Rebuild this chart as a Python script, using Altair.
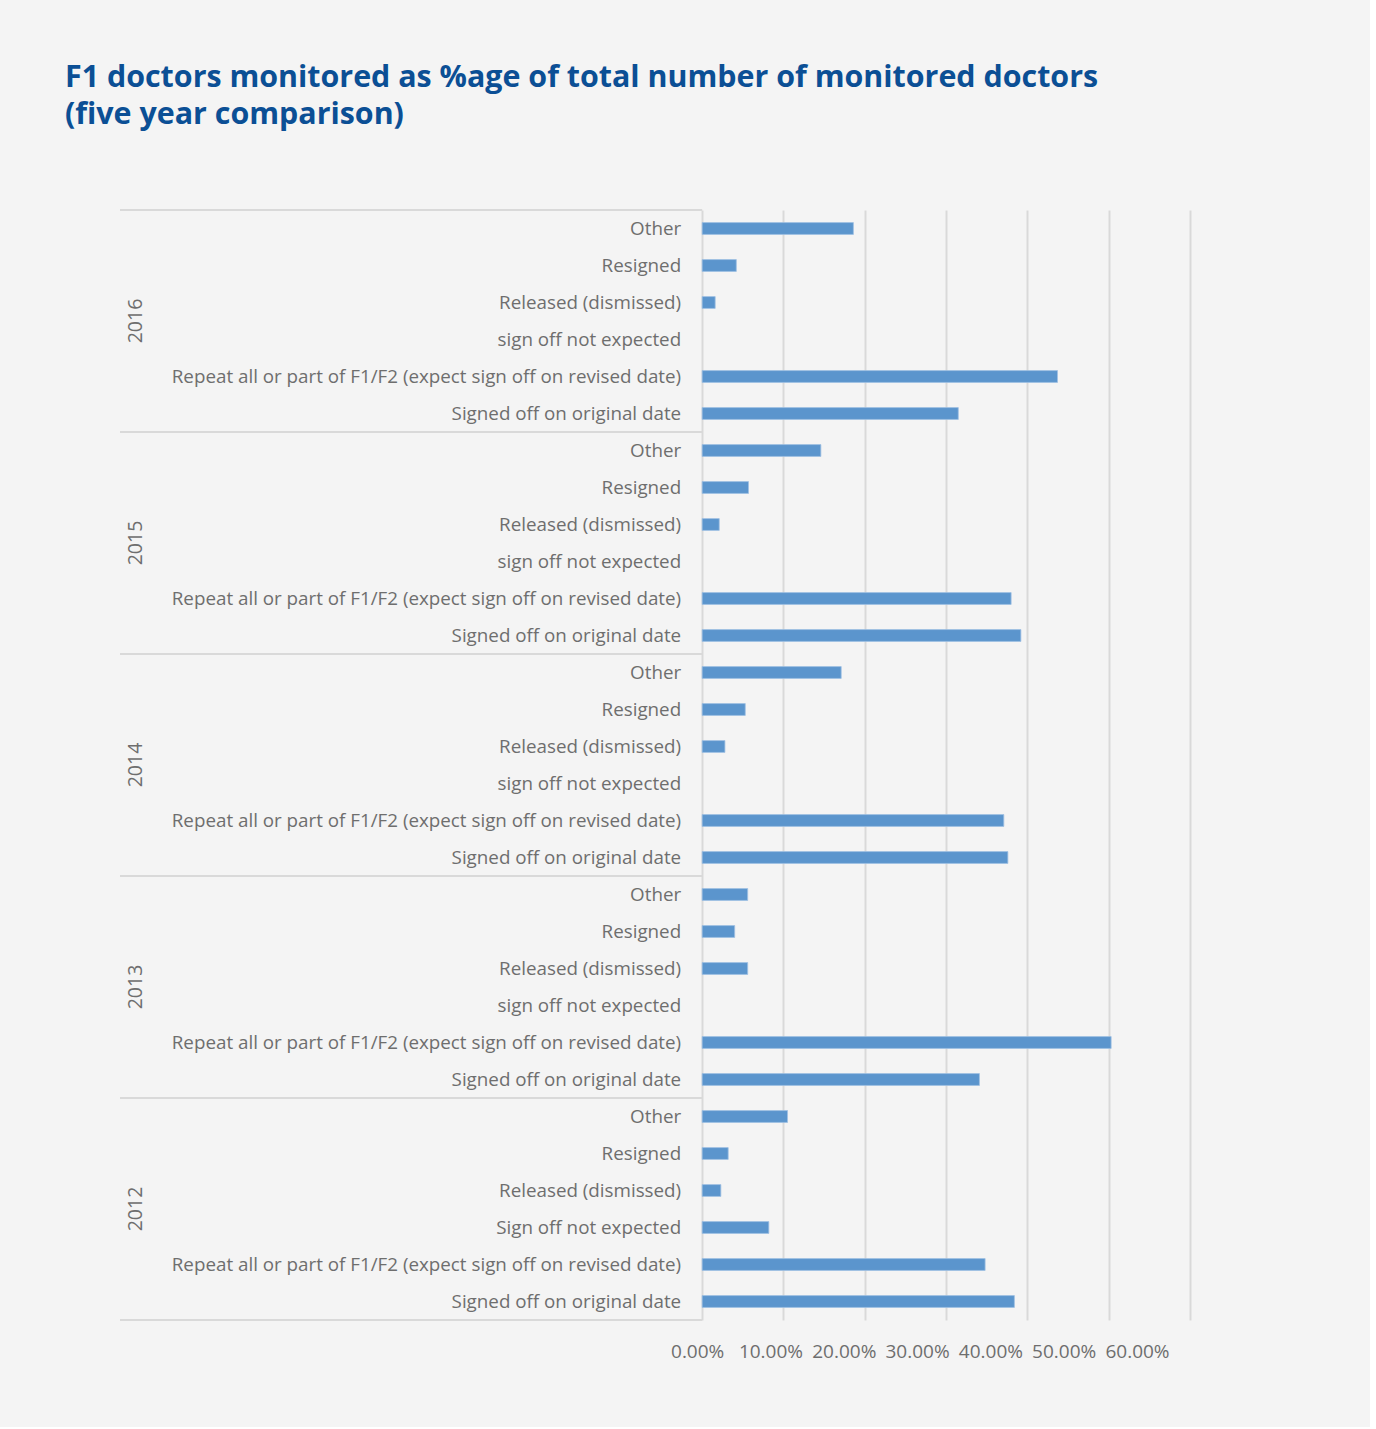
import altair as alt
import pandas as pd

# ---------------- data ----------------
years = ["2016", "2015", "2014", "2013", "2012"]
categories = [
    "Other",
    "Resigned\u00a0",
    "Released (dismissed)",
    "sign off not expected",
    "Repeat all or part of F1/F2 (expect sign off on revised date)",
    "Signed off on original date",
]
categories_2012 = [
    "Other",
    "Resigned\u00a0",
    "Released (dismissed)",
    "Sign off not expected",
    "Repeat all or part of F1/F2 (expect sign off on revised date)",
    "Signed off on original date",
]
# percentages (None = no bar)
values_2016 = [18.6, 4.2, 1.6, None, 43.7, 31.5]
values_2015 = [14.6, 5.7, 2.1, None, 38.0, 39.2]
values_2014 = [17.1, 5.3, 2.8, None, 37.1, 37.6]
values_2013 = [5.6, 4.0, 5.6, None, 50.3, 34.1]
values_2012 = [10.5, 3.2, 2.3, 8.2, 34.8, 38.4]
tick_values = [0.0, 0.1, 0.2, 0.3, 0.4, 0.5, 0.6]

title_lines = [
    "F1 doctors monitored as %age of total number of monitored doctors",
    "(five year comparison)",
]

# ---------------- tables ----------------
series = [values_2016, values_2015, values_2014, values_2013, values_2012]
cat_lists = [categories, categories, categories, categories, categories_2012]
rows = []
for g, (yr, vals, cats) in enumerate(zip(years, series, cat_lists)):
    for c, (cat, v) in enumerate(zip(cats, vals)):
        rows.append({
            "year": yr,
            "category": cat,
            "row": g * len(cats) + c,
            "value": None if v is None else v / 100.0,
        })
df = pd.DataFrame(rows)
n_rows = len(df)
group_size = len(categories)

groups = pd.DataFrame({
    "year": years,
    "start": [g * group_size for g in range(len(years))],
})
bounds = pd.DataFrame({"b": [g * group_size for g in range(len(years) + 1)]})

# ---------------- styles ----------------
BG = "#f4f4f4"
BAR = "#5b95cd"
GRID = "#d9d9d9"
TXT = "#6e6e6e"
TITLE = "#0b4f95"
FONT = "Open Sans"
X_MIN = -0.716

xscale = alt.Scale(domain=[X_MIN, 0.6], nice=False, zero=False)
yscale = alt.Scale(domain=[0, n_rows], reverse=True, nice=False, zero=False)

base = alt.Chart(df)

bars = base.transform_filter("isValid(datum.value)").transform_calculate(
    y0="datum.row + 0.34", y1="datum.row + 0.66"
).mark_bar(color=BAR, stroke="#9fc0e3", strokeWidth=0.8).encode(
    x=alt.X(
        "value:Q",
        scale=xscale,
        axis=alt.Axis(
            values=tick_values,
            format=".2%",
            grid=True,
            gridColor=GRID,
            gridWidth=2,
            domain=False,
            ticks=False,
            labelFont=FONT,
            labelFontSize=19,
            labelColor=TXT,
            labelPadding=22,
            labelOverlap=False,
            labelFlush=False,
            labelBound=False,
            labelOffset={"condition": {"test": "true", "expr": "-5 - datum.value * 80"}, "value": 0},
            title=None,
        ),
    ),
    x2=alt.datum(0),
    y=alt.Y("y0:Q", scale=yscale, axis=None),
    y2="y1:Q",
)

cat_labels = base.transform_calculate(yc="datum.row + 0.5").mark_text(
    align="right", baseline="middle", dx=-21, font=FONT, fontSize=18.8, color=TXT
).encode(
    x=alt.datum(0),
    y=alt.Y("yc:Q", scale=yscale, axis=None),
    text="category:N",
)

year_labels = alt.Chart(groups).transform_calculate(
    yc="datum.start + %f" % (group_size / 2)
).mark_text(
    align="center", baseline="middle", angle=270, font=FONT, fontSize=19.5, color=TXT
).encode(
    x=alt.value(16),
    y=alt.Y("yc:Q", scale=yscale, axis=None),
    text="year:N",
)

separators = alt.Chart(bounds).mark_rule(color=GRID, strokeWidth=2).encode(
    x=alt.datum(X_MIN),
    x2=alt.datum(0),
    y=alt.Y("b:Q", scale=yscale, axis=None),
)

chart = alt.layer(separators, bars, cat_labels, year_labels).properties(
    width=1070,
    height=1110,
    background=BG,
    padding={"left": 120, "top": 210, "right": 180, "bottom": 107},
    autosize=alt.AutoSizeParams(type="none"),
    title=alt.TitleParams(
        text=title_lines,
        anchor="start",
        frame="group",
        dx=-55,
        offset=79,
        font=FONT,
        fontSize=30.4,
        fontWeight="bold",
        color=TITLE,
        lineHeight=37,
    ),
).configure_view(stroke=None)

chart.save("out.html", embed_options={"renderer": "svg", "actions": False})
